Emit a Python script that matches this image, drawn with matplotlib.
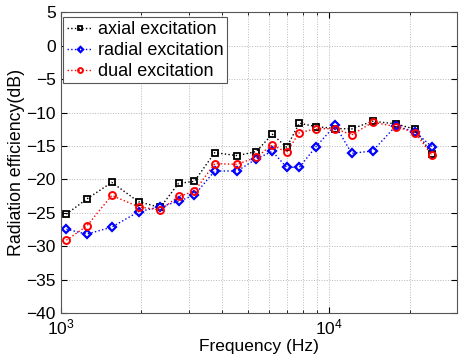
import numpy as np
import matplotlib
matplotlib.use('Agg')
import matplotlib.pyplot as plt
from matplotlib.ticker import LogLocator, MultipleLocator

plt.rcParams['font.family'] = ['Liberation Sans', 'DejaVu Sans']

# band centre frequencies (Hz)
freq = [1050, 1250, 1550, 1950, 2350, 2750, 3150, 3750, 4550, 5350,
        6150, 6950, 7750, 8950, 10550, 12150, 14550, 17750, 20950, 24150]

# radiation efficiency (dB)
axial = [-25.2, -22.95, -20.45, -23.35, -24.2, -20.6, -20.3, -16.0, -16.45, -15.85,
         -13.25, -15.2, -11.6, -12.1, -12.4, -12.45, -11.3, -11.7, -12.5, -16.2]
radial = [-27.45, -28.2, -27.15, -24.85, -24.1, -23.3, -22.35, -18.75, -18.75, -16.95,
          -15.8, -18.2, -18.2, -15.1, -11.9, -16.1, -15.75, -12.0, -12.9, -15.1]
dual = [-29.1, -27.0, -22.4, -24.1, -24.6, -22.55, -21.8, -17.65, -17.75, -16.7,
        -14.85, -15.95, -13.0, -12.45, -12.4, -13.35, -11.45, -12.1, -13.0, -16.35]

labels = ['axial excitation', 'radial excitation', 'dual excitation']

fig = plt.figure(figsize=(4.6, 3.6), dpi=100, facecolor='white')
ax = fig.add_axes([60.7 / 460, 1 - 313 / 360, 396.3 / 460, 300.7 / 360])

kw = dict(ls=':', lw=1.0, mfc='none')
ax.plot(freq, axial, color='black', marker='s', ms=4.5, mew=1.3, label=labels[0], **kw)
ax.plot(freq, radial, color='#0000ff', marker='D', ms=3.8, mew=1.6, label=labels[1], **kw)
ax.plot(freq, dual, color='#ff0000', marker='o', ms=5, mew=1.4, label=labels[2], **kw)

ax.set_xscale('log')
ax.set_xlim(1000, 30000)
ax.set_ylim(-40, 5)
ax.yaxis.set_major_locator(MultipleLocator(5))
ax.xaxis.set_major_locator(LogLocator(base=10))
ax.xaxis.set_minor_locator(LogLocator(base=10, subs=np.arange(2, 10)))

ax.grid(which='major', axis='both', ls=':', color='#b8b8b8', lw=0.7)
ax.grid(which='minor', axis='x', ls=':', color='#b8b8b8', lw=0.7)
ax.set_axisbelow(True)

ax.tick_params(which='both', direction='in', top=True, right=True, labelsize=12.5)
ax.tick_params(which='major', length=4)
ax.tick_params(which='minor', length=2)
for s in ax.spines.values():
    s.set_color('#555555')
    s.set_linewidth(0.8)

ax.set_xlabel('Frequency (Hz)', fontsize=12.5, labelpad=1)
ax.set_ylabel('Radiation efficiency(dB)', fontsize=12.8, labelpad=1)

leg = ax.legend(loc='upper left', bbox_to_anchor=(2.6 / 396.3, 1 - 5.0 / 300.7),
                borderaxespad=0, fontsize=13, fancybox=False, framealpha=1,
                edgecolor='#555555', handlelength=1.4, handletextpad=0.3,
                labelspacing=0.22, borderpad=0.2, markerscale=0.7)
leg.get_frame().set_linewidth(0.8)

fig.savefig('out.png', dpi=100, facecolor='white')
